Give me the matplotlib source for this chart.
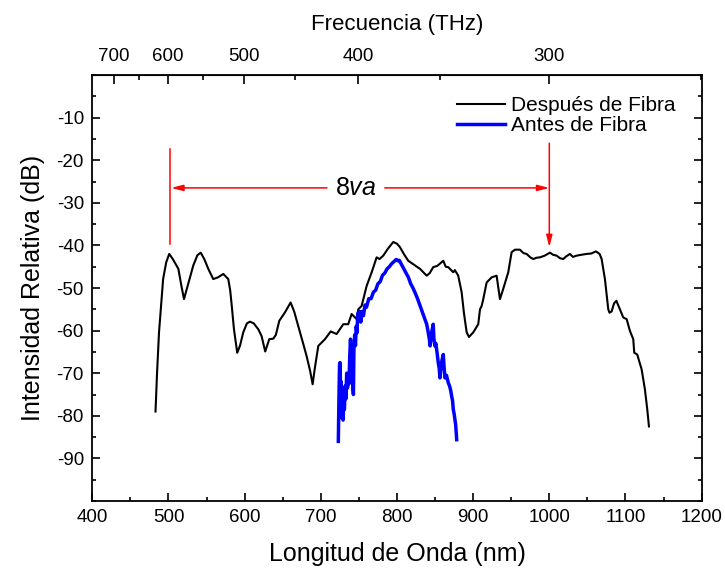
import numpy as np
import matplotlib
matplotlib.use('Agg')
import matplotlib.pyplot as plt
from matplotlib.ticker import MultipleLocator, FixedLocator

plt.rcParams['font.family'] = ['Liberation Sans', 'DejaVu Sans']
plt.rcParams['mathtext.fontset'] = 'custom'
plt.rcParams['mathtext.rm'] = 'Liberation Sans'
plt.rcParams['mathtext.it'] = 'Liberation Sans:italic'
plt.rcParams['axes.unicode_minus'] = False

# Despues de Fibra (nm, dB)
despues_nm = [483, 485, 487.6, 491, 493, 497, 501, 506, 513, 517, 520.4, 526, 532.6, 538,
              542.3, 547, 552.3, 558.8, 565, 572, 578.5, 581, 583, 586, 590.3, 594, 598.2,
              603, 607, 612, 618, 622.3, 627, 632.4, 637.6, 641, 645.5, 653, 660.4, 665,
              670.4, 676, 681.4, 686, 689.3, 692, 696.7, 705.5, 713, 720.8, 729.5, 736,
              740.5, 747, 749.2, 753.6, 760.2, 766.8, 773.3, 777, 782, 788, 795.1, 800,
              803.9, 809, 814.8, 822, 830.2, 839, 843, 847.6, 853, 860.8, 864, 867.3, 873.9,
              876, 880.4, 884.9, 888, 891.5, 894.5, 900.2, 906.7, 909, 911.2, 913.3, 917.7,
              924.3, 930.8, 935.2, 939.5, 946.1, 950.5, 954.9, 961.4, 966, 970.2, 975, 979,
              983, 987.7, 994, 1000.8, 1005, 1009.6, 1014, 1018.3, 1022, 1027, 1031, 1035.9,
              1042, 1049, 1055, 1061.2, 1066, 1068.7, 1073, 1077.4, 1079, 1081.8, 1085, 1088,
              1092.7, 1097, 1101.5, 1105.9, 1110.2, 1111.5, 1115.4, 1121.2, 1125.5, 1128.6,
              1130.8]
despues_db = [-79, -70, -60.4, -52.6, -47.9, -44, -42, -43.3, -45.5, -49.5, -52.6, -49, -44.7,
              -42.3, -41.7, -43.2, -45.5, -47.9, -47.5, -46.7, -47.9, -50.5, -54, -59.7, -65.2,
              -63.5, -60.4, -58.3, -57.9, -58.3, -59.7, -61.3, -64.9, -62.0, -61.9, -61, -57.7,
              -55.7, -53.4, -55.5, -58.9, -62.5, -66.0, -69.5, -72.6, -69, -63.6, -62.0, -60.2,
              -60.8, -58.5, -58.5, -56.1, -57.3, -55, -54.2, -49.5, -46.3, -42.8, -43.2, -42.4,
              -40.8, -39.2, -39.6, -40.4, -42, -43.6, -44.5, -45.5, -47.1, -46.5, -45.1, -44.8,
              -43.6, -45, -45.1, -46.3, -45.8, -47.1, -51.0, -56, -60.4, -61.5, -60.4, -58.5,
              -55, -54.2, -52.6, -48.7, -47.5, -47.1, -52.6, -50.2, -46.3, -41.6, -41.0, -41.0,
              -41.8, -42.0, -42.8, -43.2, -42.9, -42.8, -42.4, -41.7, -42.2, -42.4, -43, -43.2,
              -42.6, -42.0, -42.7, -42.4, -42.2, -42.0, -41.9, -41.4, -42, -43.2, -47.9, -55.0,
              -55.8, -55.5, -53.6, -53, -55, -56.9, -57.3, -60.1, -62.0, -65.2, -65.6, -69.1,
              -73.8, -78.5, -82.5]

# Antes de Fibra (nm, dB)
antes_nm = [723.0, 723.8, 724.6, 725.3, 726.0, 726.8, 727.6, 728.4, 729.2, 730.0, 731.0, 732.0,
            733.0, 734.0, 735.0, 736.0, 737.0, 738.0, 739.0, 740.0, 741.0, 742.0, 742.8, 743.5,
            744.5, 745.5, 746.5, 747.5, 748.5, 749.5, 751, 752.5, 754, 756, 758, 760, 763, 766,
            769, 772, 775, 778, 781, 784, 787, 790, 793, 796, 799, 801, 803, 806, 809, 812, 815,
            818, 821, 824, 827, 830, 833, 836, 839, 841, 842.5, 843.5, 845, 846, 847.6, 848.5,
            849.9, 851, 852.5, 854.2, 855.5, 856.4, 857.5, 859, 860.8, 862, 863, 865, 867.3,
            869, 870.5, 871.8, 873, 873.9, 875, 876.1, 877, 877.8, 878.4]
antes_db = [-86.0, -76, -68, -67.5, -75, -72, -80.5, -76, -81, -77, -78.5, -73, -76, -70, -73.5,
            -70.5, -72.5, -66, -62, -68, -66, -73, -75, -64, -61, -63.5, -59, -60.5, -56, -57.5,
            -55.5, -58, -55.5, -56.5, -54, -54.5, -52.5, -52.5, -51, -50.5, -49, -48.5, -47,
            -46.5, -45.5, -45, -44.3, -43.8, -43.3, -43.6, -43.5, -44.5, -45.5, -46.5, -47.5,
            -49, -50, -51.2, -52.5, -54, -55.5, -57, -58.5, -60.4, -62, -63.6, -61, -60, -58.5,
            -62, -63.6, -63, -65, -67.5, -69, -71.1, -69, -67, -65.6, -69, -71.1, -70.5, -72.2,
            -73, -74, -75.4, -76.5, -78.5, -79.5, -80.9, -82, -84, -85.6]

x_ticks = [400, 500, 600, 700, 800, 900, 1000, 1100, 1200]
y_ticks = [-90, -80, -70, -60, -50, -40, -30, -20, -10]
freq_ticks = [300, 400, 500, 600, 700]
freq_minor = [250, 350, 450, 550, 650]

C = 299792.458  # nm*THz


def nm2thz(x):
    x = np.asarray(x, dtype=float)
    return C / np.where(x == 0, 1e-9, x)


fig = plt.figure(figsize=(7.25, 5.71), dpi=100)
ax = fig.add_axes([0.1273, 0.1226, 0.8405, 0.7460])

ax.plot(despues_nm, despues_db, color='black', lw=1.5, label='Después de Fibra')
ax.plot(antes_nm, antes_db, color='blue', lw=2.5, label='Antes de Fibra')

ax.set_xlim(400, 1200)
ax.set_ylim(-100, 0)
ax.set_xticks(x_ticks)
ax.set_yticks(y_ticks)
ax.xaxis.set_minor_locator(MultipleLocator(50))
ax.yaxis.set_minor_locator(MultipleLocator(5))
ax.tick_params(which='both', direction='in', top=False, right=True, labelsize=13.5, width=1.2)
ax.tick_params(which='major', length=6, pad=6)
ax.tick_params(which='minor', length=3)
for s in ax.spines.values():
    s.set_linewidth(1.3)

ax.set_xlabel('Longitud de Onda (nm)', fontsize=18, labelpad=11)
ax.set_ylabel('Intensidad Relativa (dB)', fontsize=18, labelpad=8)

top = ax.secondary_xaxis('top', functions=(nm2thz, nm2thz))
top.xaxis.set_major_locator(FixedLocator(freq_ticks))
top.xaxis.set_minor_locator(FixedLocator(freq_minor))
top.tick_params(which='both', direction='in', labelsize=13.5, width=1.2)
top.tick_params(which='major', length=6.5, pad=7)
top.tick_params(which='minor', length=3.5)
top.set_xlabel('Frecuencia (THz)', fontsize=16, labelpad=13)

# anotacion 8va
red = 'red'
ax.plot([502, 502], [-17.4, -39.6], color=red, lw=1.1)
ax.annotate('', xy=(503.5, -26.5), xytext=(708, -26.5),
            arrowprops=dict(arrowstyle='-|>,head_length=0.7,head_width=0.18', color=red,
                            lw=1.1, shrinkA=0, shrinkB=0))
ax.annotate('', xy=(1000, -26.5), xytext=(784, -26.5),
            arrowprops=dict(arrowstyle='-|>,head_length=0.7,head_width=0.18', color=red,
                            lw=1.1, shrinkA=0, shrinkB=0))
ax.annotate('', xy=(1000, -40.4), xytext=(1000, -16),
            arrowprops=dict(arrowstyle='-|>,head_length=0.7,head_width=0.18', color=red,
                            lw=1.1, shrinkA=0, shrinkB=0))
ax.text(746, -26.5, r'8$\mathit{va}$', fontsize=18, ha='center', va='center')

ax.legend(loc='upper left', bbox_to_anchor=(0.598, 0.95), frameon=False, fontsize=15,
          handlelength=2.3, handletextpad=0.3, labelspacing=0.05, borderpad=0,
          borderaxespad=0)

fig.savefig('out.png', dpi=100)
